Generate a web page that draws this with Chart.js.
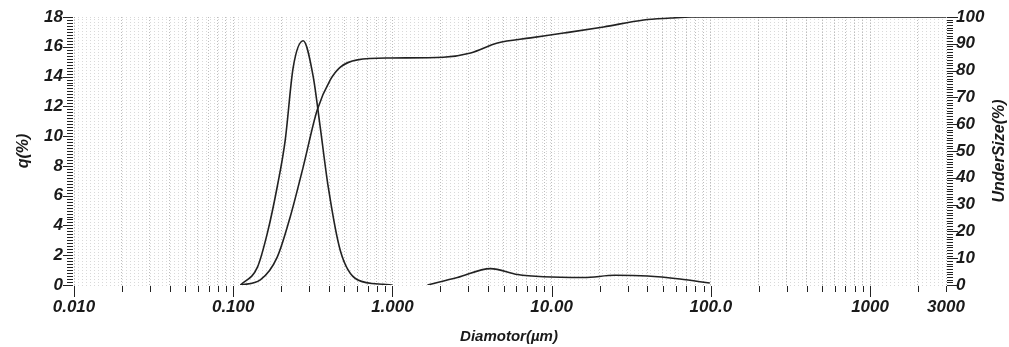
<!DOCTYPE html>
<html>
<head>
<meta charset="utf-8">
<script src="https://cdn.jsdelivr.net/npm/chart.js@4.4.1/dist/chart.umd.min.js"></script>
<style>
html,body{margin:0;padding:0;background:#fff;}
#wrap{width:1009px;height:347px;position:relative;}
</style>
</head>
<body>
<div id="wrap"><canvas id="c"></canvas></div>
<script>
// ---- data ----
const sizeQ = [0.111, 0.142, 0.164, 0.189, 0.212, 0.238, 0.275, 0.318, 0.352, 0.395, 0.471, 0.603, 0.877, 1.0, 1.3, 1.66, 2.56, 4.13, 6.11, 8.9, 15.9, 25, 40, 64, 98.6];
const qValues = [0, 1.2, 3.5, 6.6, 9.7, 14.6, 16.4, 14.0, 10.6, 6.6, 2.3, 0.35, 0.05, 0, null, 0, 0.5, 1.1, 0.7, 0.55, 0.5, 0.65, 0.6, 0.4, 0.13];

const sizeU = [0.111, 0.148, 0.189, 0.228, 0.275, 0.337, 0.407, 0.471, 0.603, 0.97, 2.09, 3.1, 4.57, 7.38, 11.9, 21.2, 37.9, 56, 74.8, 3000];
const underValues = [0, 1.9, 10.4, 25.4, 44, 65.3, 76.5, 81.3, 84, 84.7, 85, 86.6, 90.3, 92.2, 94, 96.3, 98.9, 99.6, 100, 100];

const xTickLabels = {0.01:'0.010', 0.1:'0.100', 1:'1.000', 10:'10.00', 100:'100.0', 1000:'1000', 3000:'3000'};
const xTickValues = [];
for (let e = -2; e <= 2; e++) for (let m = 1; m <= 9; m++) xTickValues.push(parseFloat((m * Math.pow(10, e)).toPrecision(3)));
xTickValues.push(1000, 2000, 3000);

const qTickValues = [];
for (let i = 0; i <= 90; i++) qTickValues.push(Math.round(i * 2) / 10);
const uTickValues = [];
for (let i = 0; i <= 100; i++) uTickValues.push(i);

const TXT = '#1a1a1a';
const FAM = '"Liberation Sans", Arial, sans-serif';
const tickFont = {family: FAM, size: 17, style: 'italic', weight: 'bold'};

function xLabel(v){
  for (const k in xTickLabels) if (Math.abs(parseFloat(k) - v) < 1e-9 * Math.max(1, v)) return xTickLabels[k];
  return '';
}
function isXMajor(v){ return xLabel(v) !== '' && v !== 3000; }

const tickMarks = {
  id: 'tickMarks',
  afterDraw(chart){
    const {ctx, chartArea: a} = chart;
    const sx = chart.scales.x, sy = chart.scales.y, sy2 = chart.scales.y2;
    ctx.save();
    ctx.strokeStyle = '#222';
    ctx.lineWidth = 1;
    ctx.beginPath();
    xTickValues.forEach(v => {
      const px = Math.round(sx.getPixelForValue(v)) + 0.5;
      const len = isXMajor(v) ? 11 : 6;
      ctx.moveTo(px, a.bottom + 1); ctx.lineTo(px, a.bottom + 1 + len);
    });
    qTickValues.forEach(v => {
      const py = Math.round(sy.getPixelForValue(v)) + 0.5;
      const major = Math.abs(v - Math.round(v)) < 1e-6 && Math.round(v) % 2 === 0;
      const len = major ? 10 : 6;
      ctx.moveTo(a.left - 1, py); ctx.lineTo(a.left - 1 - len, py);
    });
    uTickValues.forEach(v => {
      const py = Math.round(sy2.getPixelForValue(v)) + 0.5;
      const len = v % 10 === 0 ? 11 : 6;
      ctx.moveTo(a.right + 1, py); ctx.lineTo(a.right + 1 + len, py);
    });
    ctx.stroke();

    // axis titles
    ctx.fillStyle = TXT;
    ctx.textAlign = 'center';
    ctx.textBaseline = 'middle';
    ctx.font = 'italic bold 16px ' + FAM;
    ctx.save(); ctx.translate(24, (a.top + a.bottom) / 2); ctx.rotate(-Math.PI / 2); ctx.fillText('q(%)', 0, 0); ctx.restore();
    ctx.save(); ctx.translate(1000, (a.top + a.bottom) / 2); ctx.rotate(-Math.PI / 2); ctx.fillText('UnderSize(%)', 0, 0); ctx.restore();
    ctx.font = 'italic bold 15px ' + FAM;
    ctx.fillText('Diamotor(\u00b5m)', 509, 337);
    ctx.restore();
  }
};

function noPad(s){ s.paddingTop = 0; s.paddingBottom = 0; s.paddingLeft = 0; s.paddingRight = 0; }

new Chart(document.getElementById('c'), {
  type: 'line',
  data: {
    datasets: [
      {
        label: 'q(%)',
        data: sizeQ.map((x, i) => ({x, y: qValues[i]})),
        yAxisID: 'y',
        borderColor: '#222', borderWidth: 1.6, pointRadius: 0,
        cubicInterpolationMode: 'monotone', spanGaps: false, fill: false
      },
      {
        label: 'UnderSize(%)',
        data: sizeU.map((x, i) => ({x, y: underValues[i]})),
        yAxisID: 'y2',
        borderColor: '#222', borderWidth: 1.6, pointRadius: 0,
        cubicInterpolationMode: 'monotone', fill: false
      }
    ]
  },
  options: {
    responsive: true, maintainAspectRatio: false, animation: false, devicePixelRatio: 1,
    layout: {padding: {top: 17, left: 0, right: 0, bottom: 0}},
    plugins: {legend: {display: false}, tooltip: {enabled: false}},
    scales: {
      x: {
        type: 'logarithmic', min: 0.01, max: 3000,
        afterBuildTicks: s => { s.ticks = xTickValues.map(v => ({value: v})); },
        afterFit: s => { s.height = 62; noPad(s); },
        ticks: {autoSkip: false, maxRotation: 0, minRotation: 0, padding: 12, color: TXT, font: tickFont,
          callback: v => xLabel(v)},
        grid: {drawTicks: false, color: 'rgba(0,0,0,0.26)', lineWidth: 1},
        border: {display: false, dash: [1, 2]}
      },
      y: {
        position: 'left', min: 0, max: 18,
        afterBuildTicks: s => { s.ticks = qTickValues.map(v => ({value: v})); },
        afterFit: s => { s.width = 74; noPad(s); },
        ticks: {autoSkip: false, padding: 11, color: TXT, font: tickFont,
          callback: v => (Math.abs(v - Math.round(v)) < 1e-6 && Math.round(v) % 2 === 0) ? String(Math.round(v)) : ''},
        grid: {drawTicks: false, color: 'rgba(0,0,0,0.15)', lineWidth: 1},
        border: {display: false, dash: [1, 3]}
      },
      y2: {
        position: 'right', min: 0, max: 100,
        afterBuildTicks: s => { s.ticks = uTickValues.map(v => ({value: v})); },
        afterFit: s => { s.width = 63; noPad(s); },
        ticks: {autoSkip: false, padding: 10, color: TXT, font: tickFont,
          callback: v => (v % 10 === 0) ? String(v) : ''},
        grid: {display: false, drawTicks: false},
        border: {display: false}
      }
    }
  },
  plugins: [tickMarks]
});
</script>
</body>
</html>
